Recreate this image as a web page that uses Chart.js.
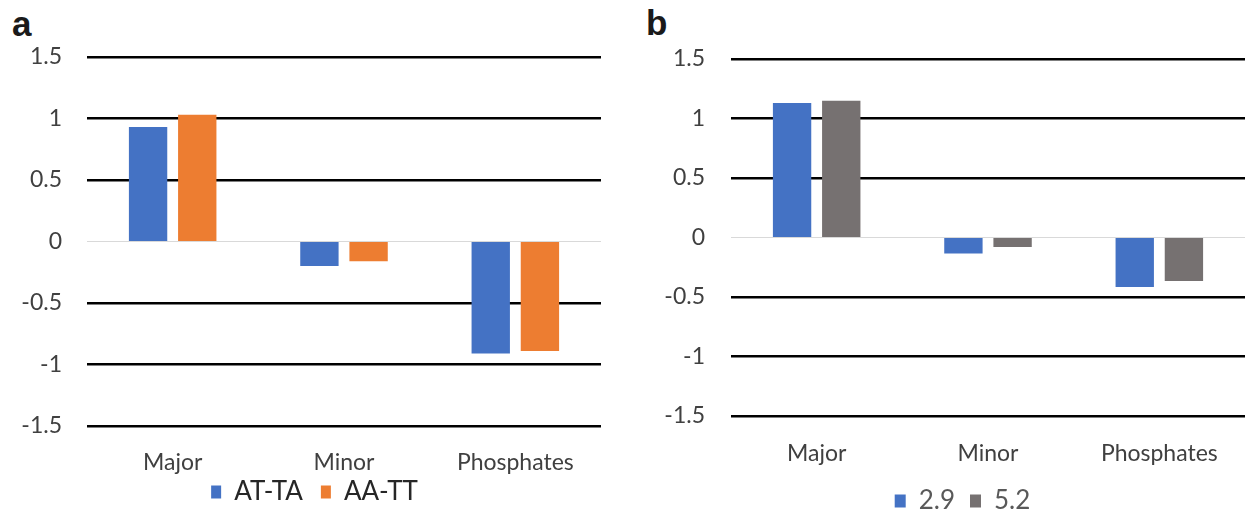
<!DOCTYPE html>
<html>
<head>
<meta charset="utf-8">
<script src="https://cdn.jsdelivr.net/npm/chart.js@4/dist/chart.umd.min.js"></script>
<style>
  html, body { margin: 0; padding: 0; width: 1249px; height: 512px; overflow: hidden; background: #ffffff; }
  .panel { position: absolute; top: 0; }
  .letter { position: absolute; font-family: "Liberation Sans", Arial, sans-serif; font-weight: bold; font-size: 35px; line-height: 1; color: #1a1a1a; }
</style>
</head>
<body>
<div class="letter" style="left:12px; top:6px;">a</div>
<div class="letter" style="left:646px; top:5px;">b</div>
<canvas id="chartA" class="panel" style="left:0px;" width="605" height="515"></canvas>
<canvas id="chartB" class="panel" style="left:640px;" width="609" height="524"></canvas>
<script>
// ---- data ----
const categories = ['Major', 'Minor', 'Phosphates'];
const yTickValues = [1.5, 1, 0.5, 0, -0.5, -1, -1.5];
const yTickLabels = ['1.5', '1', '0.5', '0', '-0.5', '-1', '-1.5'];

const seriesALabels = ['AT-TA', 'AA-TT'];
const atTA = [0.93, -0.20, -0.91];
const aaTT = [1.03, -0.16, -0.89];

const seriesBLabels = ['2.9', '5.2'];
const v29 = [1.13, -0.135, -0.415];
const v52 = [1.15, -0.08, -0.365];

// ---- helpers ----
function tickLabel(value) {
  const i = yTickValues.findIndex(v => Math.abs(v - value) < 1e-9);
  return i >= 0 ? yTickLabels[i] : '';
}

// let tick labels draw outside their (narrow) axis boxes
const noClip = {
  id: 'noClip',
  beforeDraw(chart) {
    Object.values(chart.scales).forEach(s => { s._computeLabelArea = () => undefined; });
  }
};

function makeChart(id, labels, dataArrs, colors, cfg) {
  return new Chart(document.getElementById(id), {
    type: 'bar',
    plugins: [noClip],
    data: {
      labels: categories,
      datasets: dataArrs.map((d, i) => ({
        label: labels[i],
        data: d,
        backgroundColor: colors[i],
        borderWidth: 0,
        categoryPercentage: 0.574,
        barPercentage: 0.78
      }))
    },
    options: {
      responsive: false,
      animation: false,
      devicePixelRatio: 1,
      layout: { padding: { top: cfg.top, right: cfg.right, left: cfg.left, bottom: 0 } },
      plugins: {
        tooltip: { enabled: false },
        legend: {
          position: 'bottom',
          labels: {
            boxWidth: cfg.boxW,
            boxHeight: 13,
            padding: cfg.legendPad,
            color: cfg.legendColor,
            font: { family: 'Lato', size: cfg.legendSize }
          }
        }
      },
      scales: {
        x: {
          grid: { display: false, drawTicks: false },
          border: { display: false },
          ticks: {
            padding: cfg.xPad,
            color: '#404040',
            font: { family: 'Lato', size: 23 }
          },
          afterFit: s => { s.height = cfg.xHeight; }
        },
        y: {
          min: -1.5,
          max: 1.5,
          border: { display: false },
          grid: {
            drawTicks: false,
            color: c => (c.tick && c.tick.value === 0) ? '#d9d9d9' : '#000000',
            lineWidth: c => (c.tick && c.tick.value === 0) ? 1 : 2.5
          },
          ticks: {
            stepSize: 0.5,
            padding: cfg.yPad,
            color: '#404040',
            font: { family: 'Lato', size: 23 },
            callback: v => tickLabel(v)
          },
          afterFit: s => { s.width = cfg.yWidth; }
        }
      }
    }
  });
}

makeChart('chartA', seriesALabels, [atTA, aaTT], ['#4472C4', '#ED7D31'], {
  top: 57, right: 4, left: 28, yWidth: 59, yPad: 25, xPad: 23, xHeight: 35,
  legendPad: 18, legendSize: 26, legendColor: '#262626', boxW: 10
});

makeChart('chartB', seriesBLabels, [v29, v52], ['#4472C4', '#767171'], {
  top: 59, right: 4, left: 40, yWidth: 51, yPad: 26, xPad: 24, xHeight: 57,
  legendPad: 15, legendSize: 26, legendColor: '#595959', boxW: 11
});
</script>
</body>
</html>
